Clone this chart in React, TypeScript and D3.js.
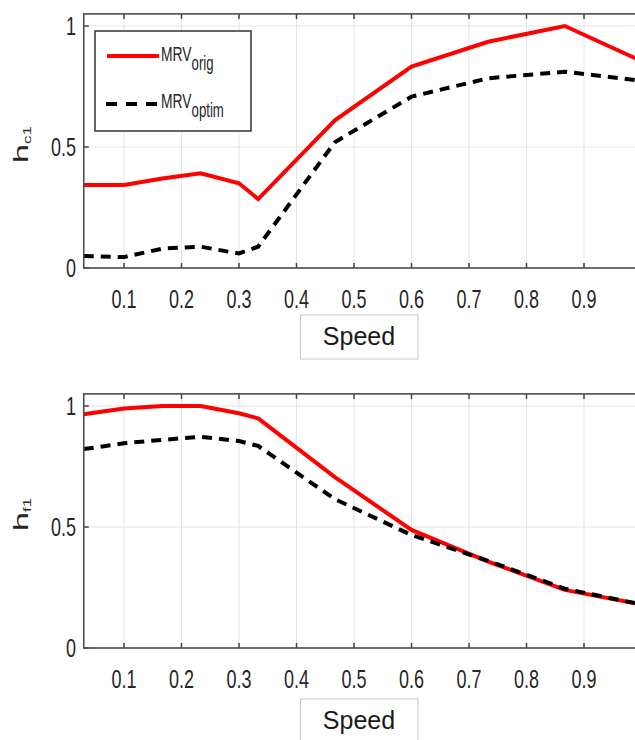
import React from 'react';
import * as d3 from 'd3';

const speed = [0.03, 0.1, 0.1667, 0.2333, 0.3, 0.3333, 0.4667, 0.6, 0.7333, 0.8667, 1.0];
const hc1Orig = [0.343, 0.343, 0.37, 0.391, 0.35, 0.285, 0.61, 0.832, 0.935, 1.0, 0.855];
const hc1Optim = [0.05, 0.045, 0.08, 0.088, 0.06, 0.088, 0.52, 0.708, 0.784, 0.811, 0.774];
const hf1Orig = [0.966, 0.99, 1.0, 1.0, 0.97, 0.949, 0.706, 0.488, 0.357, 0.24, 0.18];
const hf1Optim = [0.822, 0.846, 0.86, 0.873, 0.855, 0.835, 0.615, 0.467, 0.36, 0.245, 0.18];

const xTicks = [0.1, 0.2, 0.3, 0.4, 0.5, 0.6, 0.7, 0.8, 0.9, 1.0];
const xTickLabels = ['0.1', '0.2', '0.3', '0.4', '0.5', '0.6', '0.7', '0.8', '0.9'];
const yTicks = [0, 0.5, 1];
const yTickLabels = ['0', '0.5', '1'];
const legendNames = ['MRV', 'MRV'];
const legendSubs = ['orig', 'optim'];
const xLabel = 'Speed';

const FONT = '"Liberation Sans", Arial, sans-serif';
const RED = '#ff0000';
const BLACK = '#000000';
const DASH = '10,7';

type PanelProps = {
  yZero: number;
  yOne: number;
  orig: number[];
  optim: number[];
  sub: string;
  showLegend: boolean;
  labelStart: number;
  xLabelTop: number;
};

const Panel = ({ yZero, yOne, orig, optim, sub, showLegend, labelStart, xLabelTop }: PanelProps) => {
  const x = d3.scaleLinear().domain([0.03, 1.0]).range([83.75, 641.5]);
  const y = d3.scaleLinear().domain([0, 1]).range([yZero, yOne]);
  const [x0, x1] = x.range();
  const yTop = y(1.05);
  const yBot = y(0);
  const line = d3
    .line<number>()
    .x((_, i) => x(speed[i]))
    .y((d) => y(d));
  const tickLen = 5;
  return (
    <g>
      <rect x={x0} y={yTop} width={x1 - x0} height={yBot - yTop} fill="#fff" />
      {xTicks.map((t) => (
        <line key={'gx' + t} x1={x(t)} x2={x(t)} y1={yTop} y2={yBot} stroke="#e3e3e3" strokeWidth={1} />
      ))}
      {yTicks.map((t) => (
        <line key={'gy' + t} x1={x0} x2={x1} y1={y(t)} y2={y(t)} stroke="#e3e3e3" strokeWidth={1} />
      ))}
      {xTicks.map((t) => (
        <g key={'tx' + t}>
          <line x1={x(t)} x2={x(t)} y1={yTop} y2={yTop + tickLen} stroke="#404040" strokeWidth={1.5} />
          <line x1={x(t)} x2={x(t)} y1={yBot} y2={yBot - tickLen} stroke="#404040" strokeWidth={1.5} />
        </g>
      ))}
      {yTicks.map((t) => (
        <line key={'ty' + t} x1={x0} x2={x0 + tickLen} y1={y(t)} y2={y(t)} stroke="#404040" strokeWidth={1.5} />
      ))}
      <path d={line(orig) || ''} fill="none" stroke={RED} strokeWidth={4} strokeLinejoin="miter" />
      <path d={line(optim) || ''} fill="none" stroke={BLACK} strokeWidth={4} strokeDasharray={DASH} />
      <rect x={x0} y={yTop} width={x1 - x0} height={yBot - yTop} fill="none" stroke="#4d4d4d" strokeWidth={1.6} />
      {xTickLabels.map((lab, i) => (
        <g key={'lx' + i} transform={`translate(${x(xTicks[i])},${yBot + 40})`}>
          <text transform="scale(0.72,1)" textAnchor="middle" fontFamily={FONT} fontSize={25} fill="#262626">
            {lab}
          </text>
        </g>
      ))}
      {yTicks.map((t, i) => (
        <g key={'ly' + t} transform={`translate(76,${y(t) + 9})`}>
          <text transform="scale(0.72,1)" textAnchor="end" fontFamily={FONT} fontSize={25} fill="#262626">
            {yTickLabels[i]}
          </text>
        </g>
      ))}
      <text transform={`translate(28,${labelStart}) scale(0.62,1) rotate(-90)`} fontFamily={FONT} fontSize={34} fill="#262626">
        h
        <tspan fontSize={17} dy={5}>
          {sub}
        </tspan>
      </text>
      <rect x={300.5} y={xLabelTop} width={117.5} height={44} fill="#fff" stroke="#c8c8c8" strokeWidth={1} />
      <text x={359} y={xLabelTop + 30} textAnchor="middle" fontFamily={FONT} fontSize={25} fill="#1a1a1a">
        {xLabel}
      </text>
      {showLegend && (
        <g>
          <rect x={95} y={31} width={156} height={100} fill="#fff" stroke="#404040" strokeWidth={1.6} />
          <line x1={107} x2={159} y1={56} y2={56} stroke={RED} strokeWidth={4} />
          <line x1={106} x2={158} y1={104} y2={104} stroke={BLACK} strokeWidth={4} strokeDasharray="11,9" />
          {legendNames.map((n, i) => (
            <g key={'lg' + i} transform={`translate(161,${i === 0 ? 61 : 108})`}>
              <text transform="scale(0.66,1)" fontFamily={FONT} fontSize={21} fill="#262626">
                {n}
                <tspan fontSize={20} dy={9}>
                  {legendSubs[i]}
                </tspan>
              </text>
            </g>
          ))}
        </g>
      )}
    </g>
  );
};

export default function App() {
  return (
    <svg
      width={635}
      height={740}
      style={{ position: 'absolute', left: 0, top: 0, background: '#fff' }}
    >
      <rect x={0} y={0} width={635} height={740} fill="#fff" />
      <Panel yZero={268} yOne={26} orig={hc1Orig} optim={hc1Optim} sub="c1" showLegend={true} labelStart={163} xLabelTop={315} />
      <Panel yZero={648} yOne={406} orig={hf1Orig} optim={hf1Optim} sub="f1" showLegend={false} labelStart={531} xLabelTop={699} />
    </svg>
  );
}
